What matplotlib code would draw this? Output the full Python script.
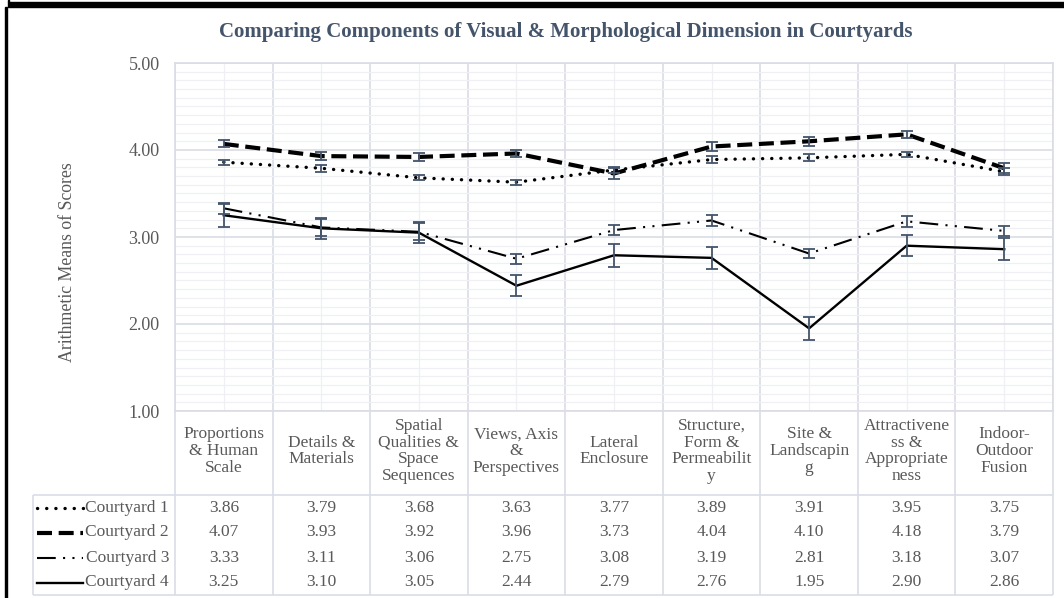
import numpy as np
import matplotlib.pyplot as plt
from matplotlib.patches import Rectangle

plt.rcParams['font.family'] = ['Liberation Serif', 'DejaVu Serif']

# data
categories = ["Proportions\n& Human\nScale", "Details &\nMaterials",
              "Spatial\nQualities &\nSpace\nSequences", "Views, Axis\n&\nPerspectives",
              "Lateral\nEnclosure", "Structure,\nForm &\nPermeabilit\ny",
              "Site &\nLandscapin\ng", "Attractivene\nss &\nAppropriate\nness",
              "Indoor-\nOutdoor\nFusion"]
series_names = ["Courtyard 1", "Courtyard 2", "Courtyard 3", "Courtyard 4"]
court1 = [3.86, 3.79, 3.68, 3.63, 3.77, 3.89, 3.91, 3.95, 3.75]
court2 = [4.07, 3.93, 3.92, 3.96, 3.73, 4.04, 4.10, 4.18, 3.79]
court3 = [3.33, 3.11, 3.06, 2.75, 3.08, 3.19, 2.81, 3.18, 3.07]
court4 = [3.25, 3.10, 3.05, 2.44, 2.79, 2.76, 1.95, 2.90, 2.86]
err1 = [0.03, 0.04, 0.03, 0.03, 0.04, 0.04, 0.04, 0.03, 0.04]
err2 = [0.04, 0.05, 0.05, 0.04, 0.06, 0.05, 0.05, 0.04, 0.06]
err3 = [0.06, 0.10, 0.10, 0.06, 0.06, 0.06, 0.05, 0.06, 0.06]
err4 = [0.13, 0.12, 0.12, 0.12, 0.13, 0.13, 0.13, 0.12, 0.13]
yticks = [1.00, 2.00, 3.00, 4.00, 5.00]

series = [court1, court2, court3, court4]
errors = [err1, err2, err3, err4]
styles = [
    dict(lw=2.4, linestyle=(0, (0.05, 2.7)), dash_capstyle='round'),
    dict(lw=3.0, linestyle=(0, (3.6, 1.6))),
    dict(lw=1.5, linestyle=(0, (9, 3.5, 1, 3.5, 1, 3.5))),
    dict(lw=1.7, linestyle='-'),
]

W, H = 1064, 598
grid_major = '#D9DDE4'
grid_minor = '#EEF0F4'
text_col = '#595959'
title_col = '#44546A'

fig = plt.figure(figsize=(W / 100, H / 100), dpi=100)


def px_axes(x0, y0, x1, y1):
    return fig.add_axes([x0 / W, 1 - y1 / H, (x1 - x0) / W, (y1 - y0) / H])


# main chart
ax = px_axes(175, 63, 1053, 411)
x = np.arange(len(categories))
for vals, errs, st in zip(series, errors, styles):
    ax.plot(x, vals, color='black', zorder=3, **st)
    ax.errorbar(x, vals, yerr=errs, fmt='none', ecolor=title_col,
                elinewidth=1.3, capsize=4, capthick=1.3, zorder=4)

ax.set_xlim(-0.5, len(categories) - 0.5)
ax.set_ylim(1, 5)
ax.set_yticks(yticks)
ax.set_yticklabels([f"{v:.2f}" for v in yticks], fontsize=13, color=text_col)
ax.set_yticks(np.arange(1, 5, 0.1), minor=True)
ax.set_xticks(np.arange(-0.5, len(categories), 1))
ax.set_xticks(x, minor=True)
ax.set_xticklabels([])
ax.tick_params(which='both', length=0)
ax.tick_params(axis='y', pad=11)
ax.grid(which='minor', color=grid_minor, lw=0.9, zorder=0)
ax.grid(which='major', color=grid_major, lw=1.2, zorder=1)
ax.set_axisbelow(True)
for sp in ax.spines.values():
    sp.set_color(grid_major)
    sp.set_linewidth(1.2)

fig.text(566 / W, 1 - 32 / H,
         "Comparing Components of Visual & Morphological Dimension in Courtyards",
         ha='center', va='center', fontsize=15, fontweight='bold', color=title_col)
fig.text(68 / W, 1 - 262 / H, "Arithmetic Means of Scores", rotation=90,
         ha='center', va='center', fontsize=12.8, color=text_col)

# data table under the chart
ppu = 878 / len(categories)
xl0 = -0.5 - (175 - 33) / ppu
tax = px_axes(33, 411, 1053, 596)
tax.set_xlim(xl0, len(categories) - 0.5)
tax.set_ylim(185, 0)
tax.axis('off')

head_h, row_h = 84, 25
bottom = head_h + row_h * len(series)
kw = dict(color=grid_major, lw=1.2, clip_on=False, solid_capstyle='butt')
for k in range(len(categories) + 1):
    tax.plot([k - 0.5, k - 0.5], [0, bottom], **kw)
tax.plot([xl0, xl0], [head_h, bottom], **kw)
tax.plot([xl0, len(categories) - 0.5], [head_h, head_h], **kw)
tax.plot([xl0, len(categories) - 0.5], [bottom, bottom], **kw)

for i, cat in enumerate(categories):
    tax.text(i, 40, cat, ha='center', va='center', multialignment='center',
             fontsize=12.5, color=text_col, linespacing=1.05)

for r, (name, vals, st) in enumerate(zip(series_names, series, styles)):
    yc = head_h + row_h * r + row_h / 2
    tax.plot([xl0 + 4 / ppu, xl0 + 50 / ppu], [yc, yc], color='black',
             clip_on=False, **st)
    tax.text(xl0 + 136 / ppu, yc, name, ha='right', va='center',
             fontsize=12.5, color=text_col)
    for i, v in enumerate(vals):
        tax.text(i, yc, f"{v:.2f}", ha='center', va='center',
                 fontsize=12.5, color=text_col)

# outer frame pieces
fig.patches.append(Rectangle((8 / W, 1 - 7 / H), 1 - 8 / W, 4.7 / H,
                             transform=fig.transFigure, color='black'))
fig.patches.append(Rectangle((5 / W, 0), 2.2 / W, 1 - 7 / H,
                             transform=fig.transFigure, color='black'))
fig.patches.append(Rectangle((8 / W, 1 - 2.3 / H), 1.2 / W, 2.3 / H,
                             transform=fig.transFigure, color='black'))

fig.savefig("out.png", dpi=100)
